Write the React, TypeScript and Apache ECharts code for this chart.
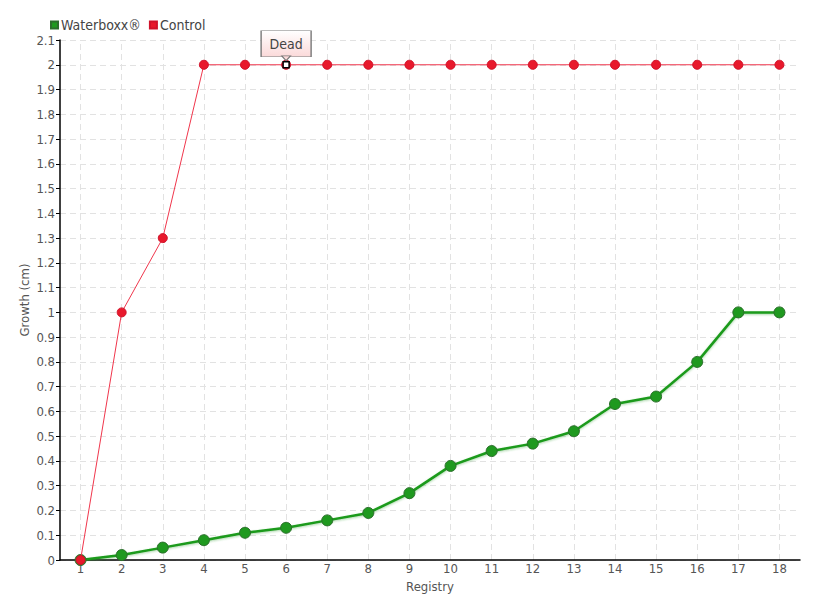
import React, { useEffect, useRef } from "react";
import * as echarts from "echarts";

const categories = ["1","2","3","4","5","6","7","8","9","10","11","12","13","14","15","16","17","18"];
const waterboxx = [0, 0.02, 0.05, 0.08, 0.11, 0.13, 0.16, 0.19, 0.27, 0.38, 0.44, 0.47, 0.52, 0.63, 0.66, 0.8, 1.0, 1.0];
const control = [0, 1.0, 1.3, 2, 2, 2, 2, 2, 2, 2, 2, 2, 2, 2, 2, 2, 2, 2];
const annotation = { category: "6", value: 2, text: "Dead" };

const FONT = "'DejaVu Sans Condensed', 'Liberation Sans Narrow', sans-serif";

export default function App() {
  const ref = useRef<HTMLDivElement>(null);
  useEffect(() => {
    document.body.style.margin = "0";
    const chart = echarts.init(ref.current!, undefined, { renderer: "svg" });
    const gridLine = { color: "#e2e2e2", type: [6, 4] as any, width: 1 };
    chart.setOption({
      animation: false,
      textStyle: { fontFamily: FONT },
      legend: {
        left: 45,
        top: 13,
        itemWidth: 7,
        itemHeight: 7,
        itemGap: 8,
        icon: "rect",
        textStyle: { fontFamily: FONT, fontSize: 14, color: "#444", padding: [0, 0, 0, -2] },
        data: ["Waterboxx®", "Control"],
      },
      grid: { left: 60, right: 20, top: 40, bottom: 40, containLabel: false, outerBoundsMode: "none" },
      xAxis: {
        type: "category",
        data: categories,
        boundaryGap: true,
        name: "Registry",
        nameLocation: "middle",
        nameGap: 20,
        nameMoveOverlap: false,
        nameTextStyle: { fontFamily: FONT, fontSize: 13, color: "#555" },
        axisLine: { lineStyle: { color: "#000", width: 1.5 } },
        axisTick: { alignWithLabel: true, length: 6, lineStyle: { color: "#555" } },
        axisLabel: { fontFamily: FONT, fontSize: 13, color: "#555", margin: 2 },
        splitLine: { show: false },
      },
      yAxis: {
        type: "value",
        min: 0,
        max: 2.1,
        interval: 0.1,
        name: "Growth (cm)",
        nameLocation: "middle",
        nameGap: 29,
        nameMoveOverlap: false,
        nameTextStyle: { fontFamily: FONT, fontSize: 13, color: "#555" },
        axisLine: { show: true, lineStyle: { color: "#000", width: 1.5 } },
        axisTick: { show: true, length: 4, lineStyle: { color: "#000" } },
        axisLabel: {
          fontFamily: FONT,
          fontSize: 13,
          color: "#555",
          margin: 5,
          formatter: (v: number) => String(Math.round(v * 10) / 10),
        },
        splitLine: { show: true, lineStyle: gridLine },
      },
      series: [
        {
          name: "Waterboxx®",
          type: "line",
          data: waterboxx,
          symbol: "circle",
          symbolSize: 11,
          color: "#1a9a1a",
          lineStyle: { color: "#1a9a1a", width: 2.5, shadowColor: "rgba(40,150,40,0.4)", shadowBlur: 2, shadowOffsetY: 1 },
          itemStyle: { color: "#1f991f", borderColor: "#2c6e2c", borderWidth: 1 },
          markLine: {
            silent: true,
            symbol: ["none", "none"],
            label: { show: false },
            lineStyle: gridLine,
            z: 0,
            data: categories.map((c) => ({ xAxis: c })),
          },
          z: 2,
        },
        {
          name: "Control",
          type: "line",
          data: control,
          symbol: "circle",
          symbolSize: 9,
          color: "#e8192c",
          lineStyle: { color: "#f0364c", width: 1 },
          itemStyle: { color: "#e8192c", borderColor: "#d0122a", borderWidth: 1 },
          markPoint: {
            silent: true,
            data: [
              {
                coord: [annotation.category, annotation.value],
                symbol: "rect",
                symbolSize: [50, 26],
                symbolOffset: [0, -21],
                itemStyle: {
                  color: new echarts.graphic.LinearGradient(0, 0, 0, 1, [
                    { offset: 0, color: "#ffffff" },
                    { offset: 1, color: "#fbd9d9" },
                  ]),
                  borderColor: "#777",
                  borderWidth: 1,
                },
                label: {
                  show: true,
                  formatter: annotation.text,
                  position: "inside",
                  color: "#444",
                  fontSize: 14,
                  fontFamily: FONT,
                },
              },
              {
                coord: [annotation.category, annotation.value],
                symbol: "path://M0,0 L10,0 L5,6 Z",
                symbolSize: [9, 5],
                symbolOffset: [0, -6.5],
                itemStyle: { color: "#fbdada", borderColor: "#777", borderWidth: 1 },
                label: { show: false },
              },
              {
                coord: [annotation.category, annotation.value],
                symbol: "rect",
                symbolSize: 6,
                itemStyle: { color: "#fff", borderColor: "#000", borderWidth: 1.5 },
                label: { show: false },
              },
            ],
          },
          z: 3,
        },
      ],
    });
    return () => chart.dispose();
  }, []);
  return <div ref={ref} style={{ width: 820, height: 600 }} />;
}
